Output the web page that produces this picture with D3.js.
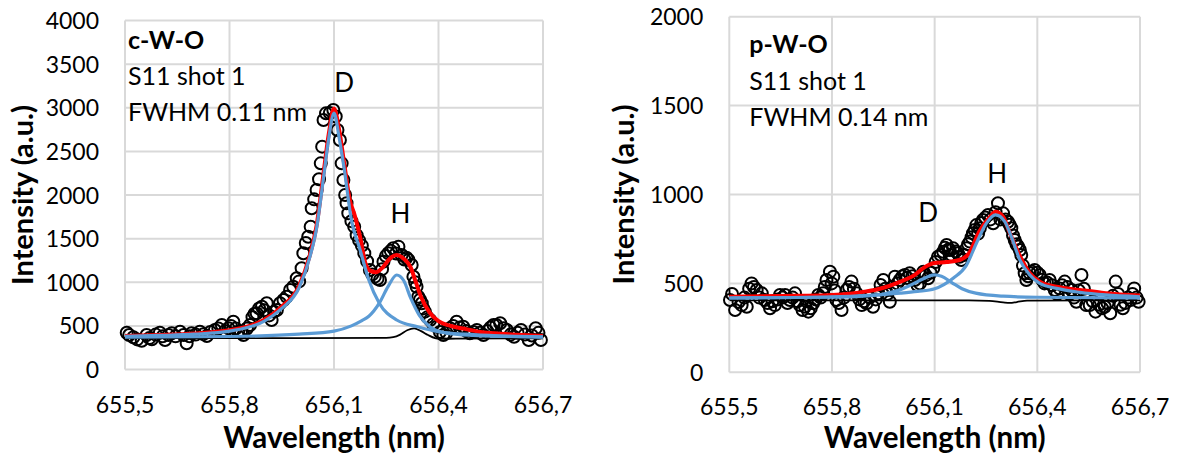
<!DOCTYPE html>
<html><head><meta charset="utf-8">
<script src="https://cdn.jsdelivr.net/npm/d3@7"></script>
<style>
html,body{margin:0;padding:0;background:#fff;}
svg{display:block;}
text{font-family:Lato, "Open Sans", sans-serif;fill:#000;}
</style></head>
<body>
<svg id="chart" width="1178" height="454"></svg>
<script>
// ---------- DATA ----------
const xTicks = [655.5, 655.8, 656.1, 656.4, 656.7];
const yTicksCWO = [0, 500, 1000, 1500, 2000, 2500, 3000, 3500, 4000];
const yTicksPWO = [0, 500, 1000, 1500, 2000];

// c-W-O measured spectrum [wavelength nm, intensity]
const cwoPoints = [
[655.505,422],[655.512,395],[655.524,369],[655.535,345],[655.548,330],[655.562,395],[655.570,360],[655.577,346],
[655.588,400],[655.600,422],[655.608,380],[655.615,338],[655.625,395],[655.634,415],[655.645,380],[655.658,433],
[655.668,395],[655.677,300],[655.685,380],[655.691,415],[655.703,400],[655.715,433],[655.725,405],[655.735,384],
[655.745,430],[655.758,453],[655.768,470],[655.778,510],[655.787,440],[655.797,472],[655.804,500],[655.811,548],
[655.818,470],[655.825,433],[655.833,420],[655.840,395],[655.850,470],[655.859,510],[655.866,600],[655.872,640],
[655.878,644],[655.885,700],[655.893,720],[655.900,680],[655.907,759],[655.914,620],[655.921,567],[655.928,663],
[655.936,682],[655.945,759],[655.955,797],[655.964,834],[655.974,911],[655.983,949],[655.993,1045],[656.000,1010],
[656.007,1160],[656.012,1332],[656.019,1450],[656.026,1522],[656.033,1637],[656.036,1848],[656.043,1950],[656.050,2057],
[656.057,2180],[656.062,2363],[656.066,2554],[656.070,2860],[656.077,2936],[656.088,2940],[656.098,2974],[656.105,2900],
[656.110,2745],[656.117,2630],[656.122,2363],[656.127,2172],[656.132,2000],[656.136,1905],[656.141,1790],[656.150,1700],
[656.158,1637],[656.165,1540],[656.172,1480],[656.180,1420],[656.187,1332],[656.195,1240],[656.203,1140],[656.210,1090],
[656.217,1064],[656.225,1040],[656.232,1026],[656.238,1150],[656.242,1236],[656.249,1300],[656.256,1332],[656.263,1360],
[656.270,1389],[656.278,1330],[656.285,1408],[656.294,1312],[656.302,1260],[656.308,1280],[656.314,1255],[656.323,1198],
[656.328,1064],[656.333,1000],[656.337,949],[656.342,834],[656.347,800],[656.352,759],[656.356,700],[656.361,663],
[656.368,600],[656.376,567],[656.385,520],[656.395,490],[656.404,430],[656.414,395],[656.423,420],[656.433,472],
[656.442,500],[656.452,548],[656.461,480],[656.471,490],[656.480,440],[656.490,415],[656.500,430],[656.510,453],
[656.519,420],[656.529,395],[656.540,440],[656.549,480],[656.558,510],[656.566,510],[656.577,530],[656.587,472],
[656.596,453],[656.607,400],[656.617,376],[656.627,420],[656.637,453],[656.648,400],[656.659,338],[656.668,390],
[656.679,472],[656.687,420],[656.694,338]
];
// c-W-O total fit (red)
const cwoFit = [
[655.50,384],[655.60,395],[655.70,412],[655.80,450],[655.85,490],[655.90,570],[655.95,720],[656.00,960],
[656.03,1300],[656.05,1650],[656.07,2250],[656.085,2700],[656.10,2990],[656.115,2740],[656.13,2340],[656.145,1950],
[656.16,1760],[656.175,1520],[656.19,1220],[656.205,1130],[656.22,1115],[656.24,1170],[656.26,1270],[656.28,1312],
[656.30,1270],[656.32,1170],[656.335,1000],[656.35,830],[656.375,650],[656.40,555],[656.43,505],[656.47,470],
[656.52,430],[656.60,405],[656.70,385]
];
// c-W-O D component (blue)
const cwoD = [
[655.50,380],[655.60,390],[655.70,405],[655.80,440],[655.90,555],[655.95,700],[656.00,940],[656.03,1280],
[656.05,1620],[656.07,2200],[656.085,2650],[656.10,2940],[656.115,2650],[656.13,2280],[656.15,1712],[656.175,1370],
[656.20,1026],[656.23,760],[656.28,567],[656.34,490],[656.40,433],[656.50,400],[656.60,382],[656.70,374]
];
// c-W-O H component (blue)
const cwoH = [
[655.50,370],[655.80,378],[656.00,405],[656.10,440],[656.15,500],[656.18,560],[656.20,610],[656.23,760],
[656.255,950],[656.28,1083],[656.30,1020],[656.32,820],[656.345,620],[656.375,490],[656.42,420],[656.50,390],
[656.60,378],[656.70,372]
];
// c-W-O baseline (black)
const cwoBase = [
[655.50,360],[656.00,360],[656.25,362],[656.27,370],[656.29,400],[656.31,450],[656.33,472],[656.35,440],
[656.37,395],[656.39,360],[656.41,350],[656.45,355],[656.70,358]
];

// p-W-O measured spectrum
const pwoPoints = [
[655.502,407],[655.508,440],[655.517,350],[655.527,395],[655.536,378],[655.544,420],[655.551,369],[655.558,470],
[655.565,500],[655.572,480],[655.580,463],[655.588,420],[655.595,444],[655.604,407],[655.612,390],[655.619,360],
[655.626,400],[655.633,378],[655.641,410],[655.648,435],[655.656,420],[655.663,435],[655.670,390],[655.677,407],
[655.685,420],[655.692,444],[655.699,400],[655.706,378],[655.714,350],[655.721,369],[655.726,400],[655.731,341],
[655.738,360],[655.745,388],[655.752,410],[655.760,435],[655.767,420],[655.774,444],[655.779,480],[655.784,519],
[655.794,566],[655.799,500],[655.804,538],[655.808,460],[655.813,407],[655.820,390],[655.828,350],[655.835,420],
[655.843,463],[655.850,480],[655.857,510],[655.864,470],[655.872,444],[655.880,410],[655.887,378],[655.894,400],
[655.901,388],[655.910,420],[655.920,369],[655.928,410],[655.935,444],[655.942,491],[655.950,519],[655.956,470],
[655.962,440],[655.969,397],[655.976,480],[655.984,538],[655.991,500],[655.998,519],[656.006,540],[656.013,547],
[656.020,530],[656.027,557],[656.035,540],[656.042,519],[656.050,490],[656.057,500],[656.062,540],[656.067,566],
[656.074,545],[656.081,529],[656.088,560],[656.096,585],[656.103,620],[656.110,650],[656.118,660],[656.125,678],
[656.130,700],[656.135,716],[656.140,690],[656.144,688],[656.149,660],[656.154,697],[656.161,680],[656.168,669],
[656.173,650],[656.178,632],[656.186,660],[656.193,697],[656.198,720],[656.203,735],[656.208,760],[656.212,782],
[656.217,800],[656.222,828],[656.227,780],[656.232,810],[656.236,840],[656.241,857],[656.248,870],[656.256,885],
[656.263,860],[656.271,838],[656.278,900],[656.285,951],[656.292,860],[656.300,894],[656.307,860],[656.314,847],
[656.319,830],[656.324,810],[656.329,770],[656.334,744],[656.339,720],[656.344,707],[656.349,688],[656.353,660],
[656.358,600],[656.363,557],[656.368,519],[656.373,540],[656.378,557],[656.385,565],[656.392,575],[656.400,560],
[656.407,547],[656.414,520],[656.421,500],[656.428,505],[656.436,519],[656.443,490],[656.451,463],[656.458,440],
[656.465,472],[656.472,490],[656.480,510],[656.488,480],[656.494,440],[656.500,463],[656.507,420],[656.514,397],
[656.521,460],[656.529,547],[656.536,470],[656.543,378],[656.553,378],[656.562,400],[656.570,341],[656.580,380],
[656.589,360],[656.597,369],[656.605,390],[656.613,332],[656.621,430],[656.629,510],[656.636,440],[656.643,380],
[656.650,360],[656.657,390],[656.665,420],[656.672,407],[656.678,440],[656.683,472],[656.690,420],[656.696,397]
];
const pwoFit = [
[655.50,425],[655.70,430],[655.80,435],[655.90,455],[655.94,470],[656.00,510],[656.04,545],[656.07,590],
[656.096,613],[656.135,620],[656.17,630],[656.20,668],[656.23,790],[656.26,870],[656.278,903],[656.30,875],
[656.32,782],[656.35,650],[656.378,557],[656.407,510],[656.456,481],[656.524,463],[656.60,445],[656.70,432]
];
const pwoD = [
[655.50,418],[655.80,422],[655.90,430],[655.95,440],[656.00,465],[656.05,510],[656.08,538],[656.10,548],
[656.12,540],[656.15,505],[656.18,470],[656.22,445],[656.30,428],[656.40,422],[656.70,418]
];
const pwoH = [
[655.50,418],[655.80,425],[655.90,432],[656.00,445],[656.05,455],[656.10,470],[656.154,529],[656.193,603],
[656.222,726],[656.251,838],[656.278,885],[656.305,847],[656.324,763],[656.349,632],[656.378,547],[656.407,500],
[656.456,472],[656.524,450],[656.60,435],[656.70,425]
];
const pwoBase = [
[655.50,475],[655.503,405],[656.20,405],[656.26,402],[656.30,393],[656.32,390],[656.34,395],[656.37,403],[656.70,405]
];

// ---------- DRAW ----------
const svg = d3.select("#chart");
const fmt = d => d.toFixed(1).replace(".", ",");

function panel(cfg){
  const x = d3.scaleLinear().domain([655.5, 656.7]).range([cfg.left, cfg.right]);
  const y = d3.scaleLinear().domain([0, cfg.yMax]).range([cfg.bottom, cfg.top]);
  const g = svg.append("g");

  // grid
  g.selectAll(".hg").data(cfg.yTicks).enter().append("line")
    .attr("x1", cfg.left).attr("x2", cfg.right)
    .attr("y1", d => y(d)).attr("y2", d => y(d))
    .attr("stroke", "#d9d9d9").attr("stroke-width", 2);
  g.selectAll(".vg").data(xTicks).enter().append("line")
    .attr("x1", d => x(d)).attr("x2", d => x(d))
    .attr("y1", cfg.top).attr("y2", cfg.bottom)
    .attr("stroke", "#d9d9d9").attr("stroke-width", 2);

  // tick labels
  g.selectAll(".yl").data(cfg.yTicks).enter().append("text")
    .attr("x", cfg.left - 26).attr("y", d => y(d) + 8.5)
    .attr("text-anchor", "end").attr("font-size", 23).text(d => d);
  g.selectAll(".xl").data(xTicks).enter().append("text")
    .attr("x", d => x(d)).attr("y", cfg.bottom + 43)
    .attr("text-anchor", "middle").attr("font-size", 23).text(fmt);

  // titles
  g.append("text").attr("x", (cfg.left + cfg.right) / 2).attr("y", 448)
    .attr("text-anchor", "middle").attr("font-size", 29.5).attr("font-weight", "bold")
    .text("Wavelength (nm)");
  g.append("text")
    .attr("transform", `translate(${cfg.ytitleX},${(cfg.top + cfg.bottom) / 2}) rotate(-90)`)
    .attr("text-anchor", "middle").attr("font-size", 29).attr("font-weight", "bold")
    .text("Intensity (a.u.)");

  // data circles
  g.selectAll(".pt").data(cfg.points).enter().append("circle")
    .attr("cx", d => x(d[0])).attr("cy", d => y(d[1])).attr("r", 6)
    .attr("fill", "none").attr("stroke", "#000").attr("stroke-width", 2);

  const line = d3.line().x(d => x(d[0])).y(d => y(d[1])).curve(d3.curveMonotoneX);
  g.append("path").attr("d", line(cfg.base)).attr("fill", "none").attr("stroke", "#000").attr("stroke-width", 1.8);
  g.append("path").attr("d", line(cfg.fit)).attr("fill", "none").attr("stroke", "#ff0000").attr("stroke-width", 4);
  g.append("path").attr("d", line(cfg.compD)).attr("fill", "none").attr("stroke", "#5b9bd5").attr("stroke-width", 3.2);
  g.append("path").attr("d", line(cfg.compH)).attr("fill", "none").attr("stroke", "#5b9bd5").attr("stroke-width", 3.2);

  // annotations
  const lines = [[cfg.name, "bold"], ["S11 shot 1", "normal"], [cfg.fwhm, "normal"]];
  lines.forEach((l, i) => {
    g.append("text").attr("x", cfg.left + cfg.annDx).attr("y", cfg.annY[i])
      .attr("font-size", 25).attr("font-weight", l[1]).text(l[0]);
  });
  g.append("text").attr("x", x(cfg.dLab[0])).attr("y", y(cfg.dLab[1]))
    .attr("text-anchor", "middle").attr("font-size", 26).text("D");
  g.append("text").attr("x", x(cfg.hLab[0])).attr("y", y(cfg.hLab[1]))
    .attr("text-anchor", "middle").attr("font-size", 26).text("H");
}

panel({left:125, right:543, top:20.5, bottom:369.5, yMax:4000, yTicks:yTicksCWO, ytitleX:33,
  points:cwoPoints, fit:cwoFit, compD:cwoD, compH:cwoH, base:cwoBase,
  name:"c-W-O", fwhm:"FWHM 0.11 nm", annDx:3, annY:[49,85,121],
  dLab:[656.129,3184], hLab:[656.291,1682]});
panel({left:729.3, right:1140, top:16.7, bottom:372.3, yMax:2000, yTicks:yTicksPWO, ytitleX:634,
  points:pwoPoints, fit:pwoFit, compD:pwoD, compH:pwoH, base:pwoBase,
  name:"p-W-O", fwhm:"FWHM 0.14 nm", annDx:20, annY:[53,90,126],
  dLab:[656.081,847], hLab:[656.283,1065]});
</script>
</body></html>
